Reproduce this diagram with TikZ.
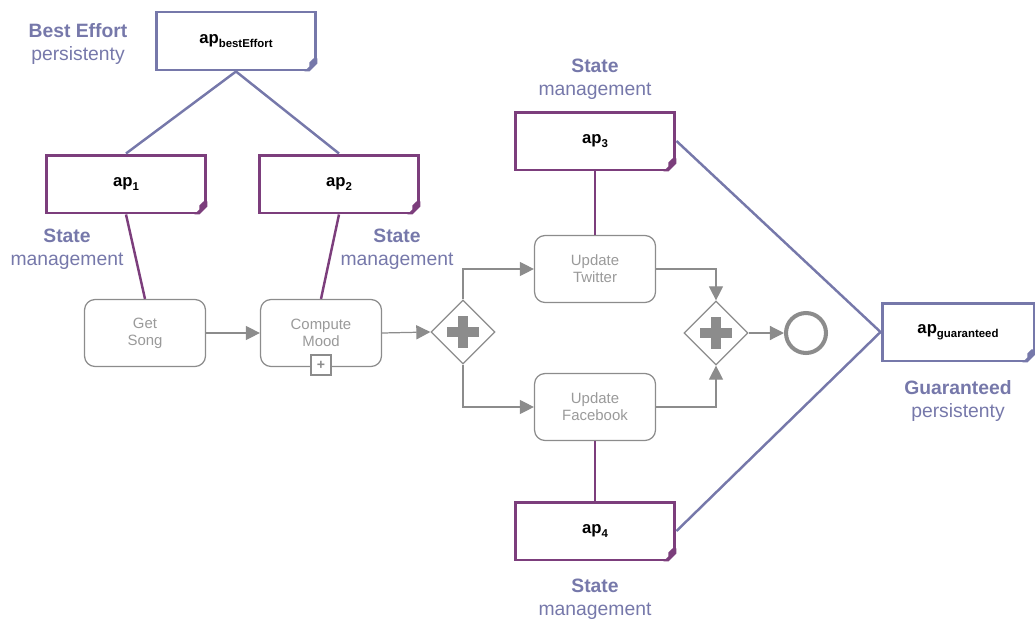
\documentclass[tikz,border=0pt]{standalone}
\usepackage{fontspec}
\setmainfont{Liberation Sans}
\usetikzlibrary{arrows.meta,shapes.geometric}

\definecolor{persist}{HTML}{7678AA}
\definecolor{statemg}{HTML}{7C3E7C}
\definecolor{flow}{HTML}{8C8C8C}
\definecolor{tasktext}{HTML}{9A9A9A}

\newcommand{\apsub}[1]{ap\raisebox{-0.45ex}{\fontsize{6.5}{7}\selectfont #1}}

\tikzset{
  apbox/.style={draw=#1, line width=1.7pt, fill=white, minimum width=3.2cm,
    minimum height=1.16cm, font=\bfseries\fontsize{9.5}{11}\selectfont},
  task/.style={draw=flow, line width=0.7pt, rounded corners=6pt, fill=white,
    minimum width=2.42cm, minimum height=1.34cm, align=center,
    text=tasktext, font=\fontsize{8.5}{9.6}\selectfont},
  gate/.style={draw=flow, line width=0.7pt, diamond, inner sep=0pt,
    minimum width=1.28cm, minimum height=1.28cm, fill=white},
  flowline/.style={flow, line width=0.7pt, -{Triangle[length=8pt,width=8pt]}},
  link/.style={#1, line width=1.4pt},
  caption/.style={text=persist, align=center, font=\fontsize{11}{13.2}\selectfont}
}

\begin{document}
\begin{tikzpicture}[x=0.02cm, y=-0.02cm]
  \useasboundingbox (0,0) rectangle (1035,622);

  % access points
  \node[apbox=persist] (apbe) at (236,41) {\apsub{bestEffort}};
  \node[apbox=statemg] (ap1) at (126,184) {\apsub{1}};
  \node[apbox=statemg] (ap2) at (339,184) {\apsub{2}};
  \node[apbox=statemg] (ap3) at (595,141) {\apsub{3}};
  \node[apbox=statemg] (ap4) at (595,531) {\apsub{4}};
  \node[apbox=persist, minimum width=3.04cm] (apg) at (958,332) {\apsub{guaranteed}};

  % labels
  \node[caption] (lbe) at (78,44) {\textbf{Best Effort}\\persistenty};
  \node[caption] (l1) at (67,249) {\textbf{State}\\management};
  \node[caption] (l2) at (397,249) {\textbf{State}\\management};
  \node[caption] (l3) at (595,79) {\textbf{State}\\management};
  \node[caption] (l4) at (595,599) {\textbf{State}\\management};
  \node[caption] (lg) at (958,401) {\textbf{Guaranteed}\\persistenty};

  % process
  \node[task] (getsong) at (145,333) {Get\\Song};
  \node[task] (mood) at (321,333) {Compute\\Mood};
  \node[draw=flow, line width=0.6pt, fill=white, minimum size=0.4cm, inner sep=0pt,
    text=flow, font=\bfseries\fontsize{8}{8}\selectfont] (sub) at (321,365) {+};
  \node[task] (twitter) at (595,269) {Update\\Twitter};
  \node[task] (facebook) at (595,407) {Update\\Facebook};
  \node[gate] (fork) at (463,332) {};
  \node[gate] (join) at (716,333) {};
  \node[draw=flow, circle, line width=2.3pt, minimum size=0.8cm] (end) at (806,333) {};
  \foreach \g in {fork,join}{
    \draw[flow, line width=5.2pt] (\g.center) ++(-16,0) -- ++(32,0);
    \draw[flow, line width=5.2pt] (\g.center) ++(0,-16) -- ++(0,32);
  }

  \draw[flowline] (getsong.east) -- (mood.west);
  \draw[flowline] (mood.east) -- (fork.west);
  \draw[flowline] (fork.north) |- (twitter.west);
  \draw[flowline] (fork.south) |- (facebook.west);
  \draw[flowline] (twitter.east) -| (join.north);
  \draw[flowline] (facebook.east) -| (join.south);
  \draw[flowline] (join.east) -- (end.west);

  % links
  \draw[link=persist] (apbe.south) -- (ap1.north);
  \draw[link=persist] (apbe.south) -- (ap2.north);
  \draw[link=statemg] (ap1.south) -- (getsong.north);
  \draw[link=statemg] (ap2.south) -- (mood.north);
  \draw[link=statemg] (ap3.south) -- (twitter.north);
  \draw[link=statemg] (ap4.north) -- (facebook.south);
  \draw[link=persist] (ap3.east) -- (apg.west);
  \draw[link=persist] (ap4.east) -- (apg.west);

  % folded corners
  \foreach \n/\c in {apbe/persist,ap1/statemg,ap2/statemg,ap3/statemg,ap4/statemg,apg/persist}{
    \fill[white] (\n.south east) -- ++(-10,0) -- ++(10,-10) -- cycle;
    \fill[\c] (\n.south east) ++(-13,-0.2) -- ++(5,0) -- ++(7.8,-7.8) -- ++(0,-5)
      -- ++(-4,0) -- ++(-4,4) -- ++(0,4) -- cycle;
  }
\end{tikzpicture}
\end{document}
